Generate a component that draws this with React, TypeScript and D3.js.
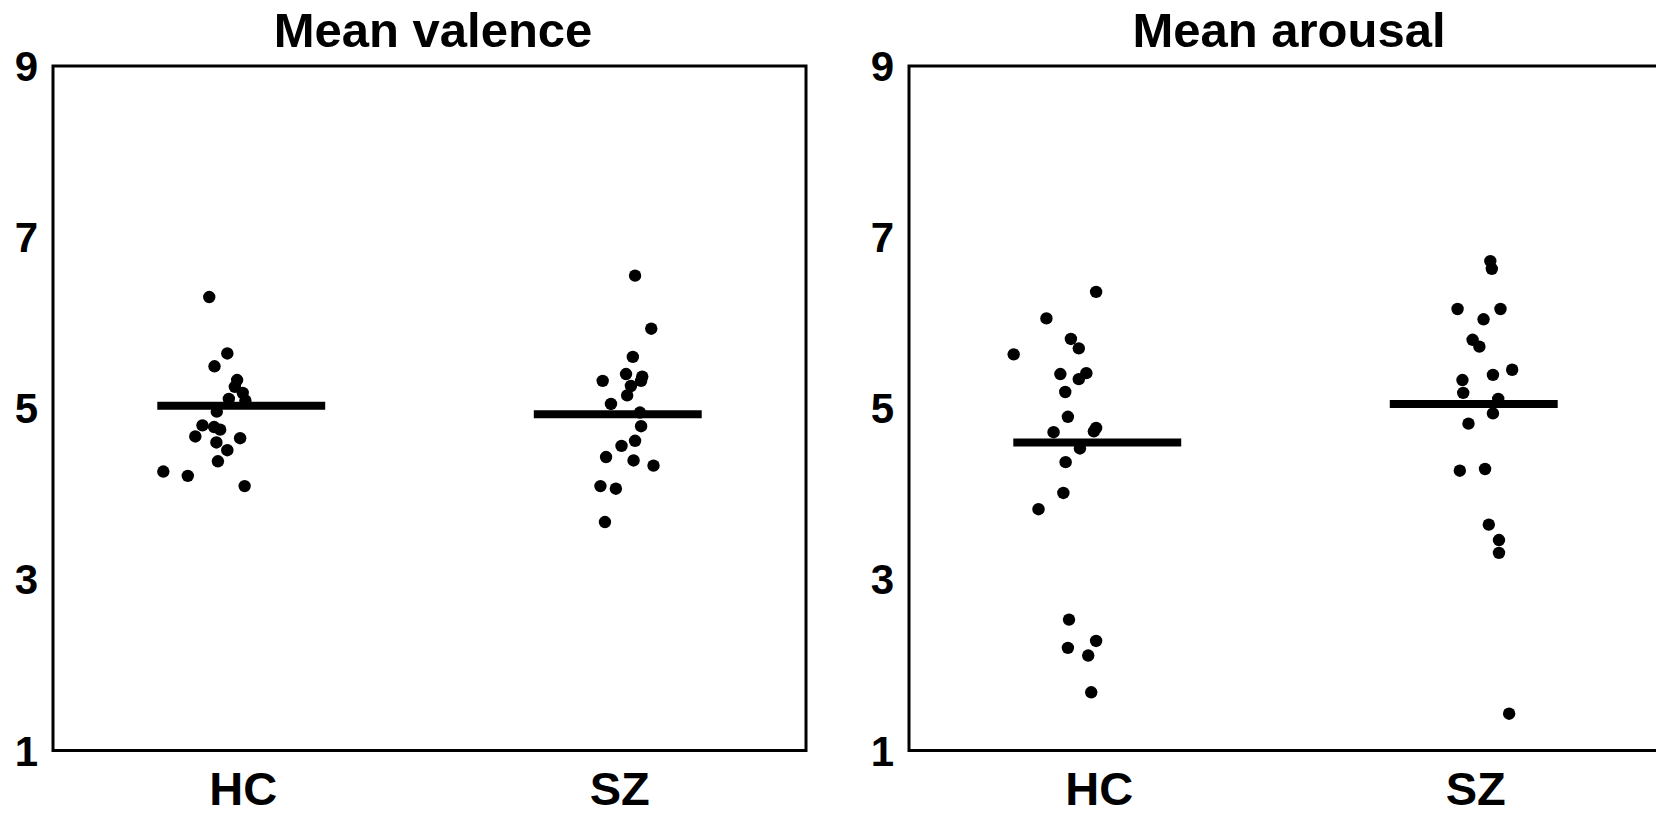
import { useEffect, useRef } from 'react';
import * as d3 from 'd3';

const groups = ['HC', 'SZ'];
const yTicks = [1, 3, 5, 7, 9];

// valence ratings per subject, jitter is horizontal offset in group units
const valenceHC = [6.30, 5.64, 5.49, 5.33, 5.25, 5.18, 5.11, 5.09, 4.96, 4.80, 4.78, 4.75, 4.67, 4.60, 4.65, 4.51, 4.38, 4.26, 4.21, 4.09];
const valenceHCJitter = [-0.085, -0.037, -0.071, -0.011, -0.017, 0.004, -0.033, 0.011, -0.065, -0.103, -0.072, -0.056, -0.122, -0.066, -0.003, -0.037, -0.062, -0.207, -0.142, 0.009];
const valenceSZ = [6.55, 5.93, 5.60, 5.40, 5.32, 5.37, 5.32, 5.26, 5.15, 5.05, 4.95, 4.79, 4.62, 4.56, 4.43, 4.39, 4.33, 4.09, 4.06, 3.67];
const valenceSZJitter = [0.046, 0.089, 0.040, 0.022, -0.040, 0.065, 0.062, 0.035, 0.025, -0.018, 0.059, 0.062, 0.046, 0.010, -0.031, 0.042, 0.095, -0.046, -0.005, -0.034];
const valenceMeans = [5.03, 4.93];

const arousalHC = [6.36, 6.05, 5.81, 5.70, 5.63, 5.40, 5.41, 5.34, 5.19, 4.90, 4.72, 4.77, 4.73, 4.53, 4.37, 4.01, 3.82, 2.53, 2.28, 2.20, 2.11, 1.68];
const arousalHCJitter = [-0.003, -0.135, -0.070, -0.049, -0.222, -0.098, -0.029, -0.049, -0.085, -0.078, -0.116, -0.003, -0.009, -0.046, -0.084, -0.090, -0.156, -0.075, -0.003, -0.078, -0.024, -0.016];
const arousalSZ = [6.72, 6.63, 6.16, 6.16, 6.04, 5.80, 5.72, 5.45, 5.39, 5.33, 5.18, 5.11, 4.94, 4.82, 4.27, 4.29, 3.64, 3.46, 3.31, 1.43];
const arousalSZJitter = [0.044, 0.048, -0.043, 0.071, 0.026, -0.003, 0.015, 0.102, 0.051, -0.030, -0.028, 0.065, 0.051, -0.014, -0.037, 0.030, 0.040, 0.067, 0.067, 0.094];
const arousalMeans = [4.60, 5.05];

const FONT = '"Liberation Sans", Arial, sans-serif';

function App() {
  const ref = useRef<SVGSVGElement>(null);

  useEffect(() => {
    const W = 1656, H = 816;
    const svg = d3.select(ref.current);
    svg.selectAll('*').remove();
    svg.attr('width', W).attr('height', H);
    svg.append('rect').attr('width', W).attr('height', H).attr('fill', '#fff');

    const top = 66, bottom = 750.5, pw = 753;
    const y = d3.scaleLinear().domain([1, 9]).range([bottom, top]);

    const panels = [
      { left: 53, title: 'Mean valence', sets: [[valenceHC, valenceHCJitter], [valenceSZ, valenceSZJitter]], means: valenceMeans },
      { left: 909, title: 'Mean arousal', sets: [[arousalHC, arousalHCJitter], [arousalSZ, arousalSZJitter]], means: arousalMeans },
    ];

    panels.forEach(p => {
      const g = svg.append('g').attr('transform', `translate(${p.left},0)`);
      const x = d3.scaleLinear().domain([-0.5, 1.5]).range([0, pw]);

      g.append('rect')
        .attr('x', 0).attr('y', top).attr('width', pw).attr('height', bottom - top)
        .attr('fill', 'none').attr('stroke', '#000').attr('stroke-width', 3);

      g.append('text').attr('x', 380).attr('y', 46.5)
        .attr('text-anchor', 'middle').style('font-family', FONT).style('font-weight', 'bold')
        .style('font-size', '49px').text(p.title);

      g.selectAll('text.ytick').data(yTicks).enter().append('text').attr('class', 'ytick')
        .attr('x', -15).attr('y', d => y(d)).attr('dy', '0.36em')
        .attr('text-anchor', 'end').style('font-family', FONT).style('font-weight', 'bold')
        .style('font-size', '42px').text(d => d);

      g.selectAll('text.xtick').data(groups).enter().append('text').attr('class', 'xtick')
        .attr('x', (_, i) => x(i) + 2).attr('y', 805)
        .attr('text-anchor', 'middle').style('font-family', FONT).style('font-weight', 'bold')
        .style('font-size', '47px').text(d => d);

      p.means.forEach((m, i) => {
        g.append('line')
          .attr('x1', x(i - 0.223)).attr('x2', x(i + 0.223))
          .attr('y1', y(m)).attr('y2', y(m))
          .attr('stroke', '#000').attr('stroke-width', 8);
      });

      p.sets.forEach(([vals, jit], i) => {
        g.selectAll(`circle.g${i}`).data(vals).enter().append('circle').attr('class', `g${i}`)
          .attr('cx', (_, k) => x(i + jit[k])).attr('cy', d => y(d))
          .attr('r', 6.2).attr('fill', '#000');
      });
    });
  }, []);

  return <svg ref={ref} style={{ position: 'absolute', left: 0, top: 0, display: 'block' }} />;
}

export default App;
